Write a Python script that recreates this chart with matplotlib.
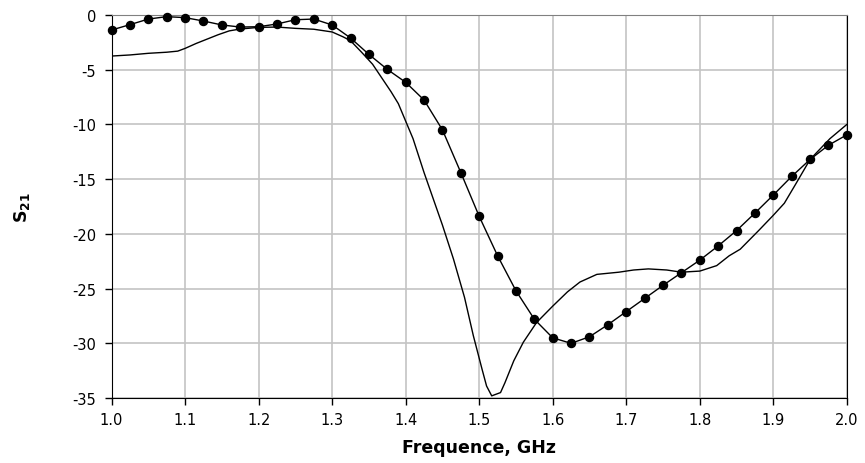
import matplotlib
matplotlib.use("Agg")
import matplotlib.pyplot as plt

# measured curve (thin line)
f_meas = [1.000, 1.025, 1.050, 1.075, 1.090, 1.100, 1.115, 1.130, 1.145, 1.160,
          1.175, 1.200, 1.225, 1.250, 1.275, 1.300, 1.315, 1.325, 1.340, 1.355,
          1.370, 1.380, 1.390, 1.400, 1.410, 1.425, 1.450, 1.465, 1.480, 1.492,
          1.504, 1.510, 1.517, 1.529, 1.535, 1.547, 1.560, 1.578, 1.600, 1.620,
          1.637, 1.660, 1.690, 1.710, 1.730, 1.755, 1.775, 1.800, 1.823, 1.840,
          1.855, 1.880, 1.900, 1.915, 1.930, 1.950, 1.977, 2.000]
s21_meas = [-3.75, -3.65, -3.5, -3.4, -3.3, -3.05, -2.6, -2.2, -1.8, -1.45,
            -1.28, -1.13, -1.1, -1.22, -1.3, -1.55, -2.0, -2.35, -3.4, -4.5,
            -6.0, -7.0, -8.1, -9.7, -11.3, -14.4, -19.2, -22.3, -25.8, -29.3,
            -32.4, -33.9, -34.8, -34.5, -33.6, -31.6, -29.9, -28.1, -26.6, -25.3,
            -24.4, -23.7, -23.5, -23.3, -23.2, -23.3, -23.5, -23.4, -22.9, -22.0,
            -21.4, -19.7, -18.3, -17.2, -15.5, -13.2, -11.3, -10.0]

# simulated curve (with markers)
f_sim = [1.000, 1.025, 1.050, 1.075, 1.100, 1.125, 1.150, 1.175, 1.200, 1.225,
         1.250, 1.275, 1.300, 1.325, 1.350, 1.375, 1.400, 1.425, 1.450, 1.475,
         1.500, 1.525, 1.550, 1.575, 1.600, 1.625, 1.650, 1.675, 1.700, 1.725,
         1.750, 1.775, 1.800, 1.825, 1.850, 1.875, 1.900, 1.925, 1.950, 1.975, 2.000]
s21_sim = [-1.37, -0.88, -0.37, -0.15, -0.24, -0.55, -0.91, -1.10, -1.07, -0.82,
           -0.43, -0.37, -0.91, -2.1, -3.6, -4.97, -6.15, -7.77, -10.5, -14.4,
           -18.4, -22.0, -25.2, -27.8, -29.5, -30.0, -29.4, -28.3, -27.1, -25.9,
           -24.7, -23.55, -22.4, -21.1, -19.7, -18.1, -16.45, -14.75, -13.2, -11.9, -10.95]

xticks = [1.0, 1.1, 1.2, 1.3, 1.4, 1.5, 1.6, 1.7, 1.8, 1.9, 2.0]
yticks = [0, -5, -10, -15, -20, -25, -30, -35]

plt.rcParams['font.family'] = ['DejaVu Sans']
plt.rcParams['axes.unicode_minus'] = False

fig = plt.figure(figsize=(8.65, 4.64), dpi=100)
ax = fig.add_axes([0.129, 0.14, 0.850, 0.8255])

ax.plot(f_meas, s21_meas, color='black', lw=1.0, zorder=3)
ax.plot(f_sim, s21_sim, color='black', lw=1.0, marker='o', ms=5.8,
        mfc='black', mec='black', zorder=4, clip_on=False)

ax.set_xlim(1.0, 2.0)
ax.set_ylim(-35, 0)
ax.set_xticks(xticks)
ax.set_xticklabels(['%.1f' % v for v in xticks])
ax.set_yticks(yticks)
ax.grid(True, color='#c4c4c4', lw=1.2)
ax.set_axisbelow(True)

ax.tick_params(axis='both', direction='out', length=5, width=1, labelsize=10.5, colors='black')
ax.tick_params(axis='x', pad=5)
ax.tick_params(axis='y', pad=6)
ax.spines['top'].set_color('#808080')
for s in ['left', 'bottom', 'right']:
  ax.spines[s].set_color('black')

ax.set_xlabel('Frequence, GHz', fontsize=12.5, fontweight='bold', labelpad=8)
ax.set_ylabel(r'$\mathbf{S_{21}}$', fontsize=12.5)
ax.yaxis.set_label_coords(-0.108, 0.5)

fig.savefig('out.png', dpi=100)
